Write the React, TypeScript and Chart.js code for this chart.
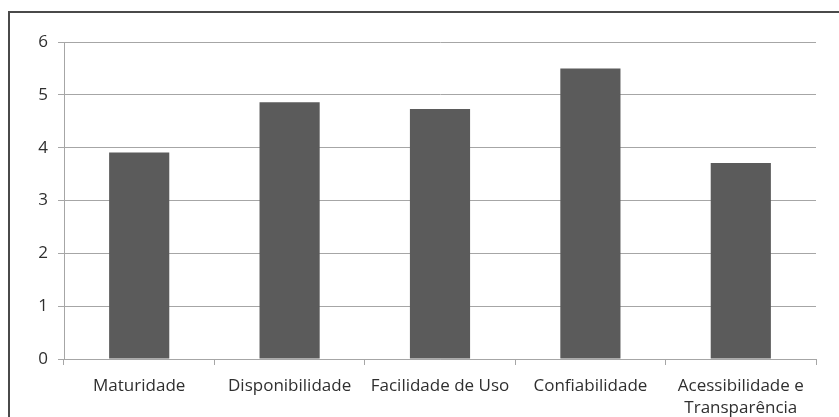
import React, { useEffect, useRef } from "react";
import { Chart, registerables } from "chart.js";

Chart.register(...registerables);

const categories: (string | string[])[] = [
  "Maturidade",
  "Disponibilidade",
  "Facilidade de Uso",
  "Confiabilidade",
  ["Acessibilidade e", "Transparência"],
];
const values: number[] = [3.91, 4.86, 4.73, 5.5, 3.71];
const yTicks: number[] = [0, 1, 2, 3, 4, 5, 6];

export default function App() {
  const ref = useRef<HTMLCanvasElement | null>(null);

  useEffect(() => {
    if (!ref.current) return;
    const chart = new Chart(ref.current, {
      type: "bar",
      data: {
        labels: categories,
        datasets: [
          {
            data: values,
            backgroundColor: "#5b5b5b",
            borderWidth: 0,
            barPercentage: 0.4,
            categoryPercentage: 1,
          },
        ],
      },
      options: {
        animation: false,
        responsive: false,
        maintainAspectRatio: false,
        layout: { padding: { left: 0, top: 42, right: 23, bottom: 0 } },
        plugins: { legend: { display: false }, tooltip: { enabled: false } },
        scales: {
          x: {
            offset: true,
            grid: {
              offset: true,
              drawOnChartArea: false,
              drawTicks: true,
              tickLength: 6,
              color: "#a6a6a6",
            },
            border: { color: "#a6a6a6", width: 1 },
            ticks: {
              color: "#2f2f2f",
              padding: 10,
              maxRotation: 0,
              autoSkip: false,
              font: { family: "'Open Sans'", size: 17, lineHeight: 1.3 },
            },
            afterFit: (s: any) => {
              s.height = 58;
            },
          },
          y: {
            min: 0,
            max: 6,
            afterBuildTicks: (s: any) => {
              s.ticks = yTicks.map((v) => ({ value: v }));
            },
            grid: {
              color: "#a6a6a6",
              tickLength: 6,
            },
            border: { color: "#a6a6a6", width: 1 },
            ticks: {
              color: "#2f2f2f",
              padding: 10,
              font: { family: "'Open Sans'", size: 17 },
            },
            afterFit: (s: any) => {
              s.width = 64;
            },
          },
        },
      },
    });
    return () => chart.destroy();
  }, []);

  return (
    <div
      style={{
        position: "fixed",
        left: 0,
        top: 0,
        width: 839,
        height: 417,
        overflow: "hidden",
        background: "#fff",
      }}
    >
      <div
        style={{
          position: "absolute",
          left: 8,
          top: 11,
          width: 1000,
          height: 1000,
          borderTop: "2px solid #4a4a4a",
          borderLeft: "2px solid #4a4a4a",
          boxSizing: "border-box",
        }}
      />
      <canvas
        ref={ref}
        width={839}
        height={417}
        style={{ position: "absolute", left: 0, top: 0, width: 839, height: 417 }}
      />
    </div>
  );
}
